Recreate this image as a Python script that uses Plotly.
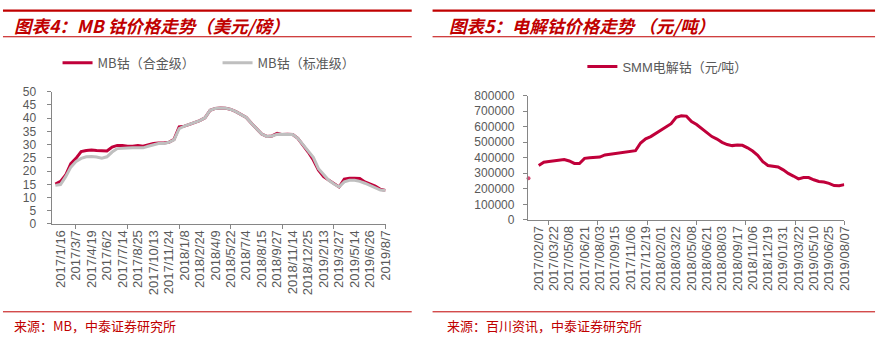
import plotly.graph_objects as go

# ---------------- data ----------------
mb_labels = ["2017/1/16", "2017/3/7", "2017/4/19", "2017/6/2", "2017/7/14", "2017/8/25",
             "2017/10/13", "2017/11/24", "2018/1/8", "2018/2/24", "2018/4/9", "2018/5/22",
             "2018/7/4", "2018/8/15", "2018/9/27", "2018/11/14", "2018/12/25", "2019/2/13",
             "2019/3/27", "2019/5/14", "2019/6/26", "2019/8/7"]
mb_alloy = [15.1, 16.1, 18.5, 22.8, 24.8, 27.4, 27.8, 28.0, 27.8, 27.6, 27.6, 29.1, 29.7, 29.7,
            29.4, 29.4, 29.7, 29.4, 29.9, 30.4, 30.6, 30.6, 30.9, 32.0, 36.7, 37.0, 37.7, 38.3,
            39.1, 40.1, 43.0, 43.7, 43.9, 43.8, 43.3, 42.5, 41.5, 40.3, 38.1, 36.1, 34.0, 33.1,
            33.3, 34.3, 33.8, 33.9, 33.8, 32.4, 30.0, 27.2, 24.2, 20.3, 17.9, 16.5, 15.1, 14.0,
            17.0, 17.3, 17.3, 17.2, 15.9, 15.1, 14.3, 13.1, 12.7]
mb_std = [14.6, 14.9, 17.9, 21.5, 23.6, 24.8, 25.4, 25.5, 25.3, 24.9, 25.4, 27.2, 28.5, 28.5,
          28.7, 28.8, 28.8, 28.8, 29.4, 29.9, 30.4, 30.4, 30.9, 31.8, 36.1, 37.0, 37.7, 38.3,
          39.1, 40.1, 43.0, 43.7, 43.9, 43.8, 43.3, 42.5, 41.5, 40.3, 38.1, 36.1, 34.0, 33.1,
          33.3, 33.9, 33.8, 33.9, 33.8, 32.4, 30.0, 27.2, 25.2, 20.9, 18.5, 16.5, 15.1, 14.0,
          15.9, 16.5, 16.5, 16.1, 15.4, 14.5, 13.7, 12.8, 12.7]

smm_labels = ["2017/02/07", "2017/03/22", "2017/05/08", "2017/06/21", "2017/08/03", "2017/09/15",
              "2017/11/06", "2017/12/19", "2018/02/01", "2018/03/22", "2018/05/08", "2018/06/21",
              "2018/08/03", "2018/09/17", "2018/11/06", "2018/12/19", "2019/01/31", "2019/03/22",
              "2019/05/10", "2019/06/25", "2019/08/07"]
smm_price = [268000, None, 350000, 371000, 375000, 379000, 385000, 388000, 379000, 363000,
             363000, 396000, 400000, 400000, 404000, 418000, 423000, 427000, 431000, 435000,
             439000, 445000, 495000, 522000, 536000, 557000, 577000, 594000, 619000, 660000,
             670000, 668000, 633000, 614000, 588000, 557000, 536000, 520000, 499000, 485000,
             478000, 482000, 480000, 464000, 443000, 416000, 375000, 350000, 346000, 340000,
             322000, 299000, 282000, 264000, 272000, 272000, 258000, 247000, 243000, 235000,
             221000, 219000, 227000]

# ---------------- styling ----------------
W, H = 889, 350
RED = "#C00000"
LINE_RED = "#C0003A"
GRAY = "#BFBFBF"
TXT = "#595959"
AX = "#868686"
CJK = "Noto Sans CJK SC"
SANS = "Liberation Sans, Arial"

def px(x):
    return x / W

def py(y):
    return 1 - y / H

fig = go.Figure()

# left series
xl = list(range(len(mb_alloy)))
fig.add_trace(go.Scatter(x=xl, y=mb_alloy, mode="lines", name="MB钴（合金级）",
                         line=dict(color=LINE_RED, width=3), xaxis="x", yaxis="y",
                         legend="legend"))
fig.add_trace(go.Scatter(x=xl, y=mb_std, mode="lines", name="MB钴（标准级）",
                         line=dict(color=GRAY, width=3), xaxis="x", yaxis="y",
                         legend="legend"))

# right series
xr = list(range(len(smm_price)))
sizes = []
for i, v in enumerate(smm_price):
    prev_none = i == 0 or smm_price[i - 1] is None
    next_none = i == len(smm_price) - 1 or smm_price[i + 1] is None
    sizes.append(4 if (v is not None and prev_none and next_none) else 0)
fig.add_trace(go.Scatter(x=xr, y=smm_price, mode="lines+markers", name="SMM电解钴（元/吨）",
                         line=dict(color=LINE_RED, width=3),
                         marker=dict(size=sizes, color=LINE_RED, line=dict(width=0)),
                         cliponaxis=False, xaxis="x2", yaxis="y2", legend="legend2"))

n_l = len(mb_labels)
n_r = len(smm_labels)
left_tickvals = [1 + 3 * k for k in range(n_l)]
right_tickvals = [2 + 3 * k for k in range(n_r)]
left_minor = [4 + 10 * k for k in range(7)]
right_minor = [62 - 9.675 * k for k in range(7)]

common_x = dict(showgrid=False, zeroline=False, showline=True, linecolor=AX, linewidth=1,
                tickangle=-90, tickmode="array", ticks="", ticklen=0,
                tickfont=dict(family=SANS, size=13, color=TXT))
common_y = dict(showgrid=False, zeroline=False, showline=True, linecolor=AX, linewidth=1,
                ticks="outside", ticklen=4, tickcolor=AX,
                tickfont=dict(family=SANS, size=12, color=TXT))

fig.update_layout(
    width=W, height=H, margin=dict(l=0, r=0, t=0, b=0),
    paper_bgcolor="white", plot_bgcolor="white",
    xaxis=dict(**common_x, domain=[px(52), px(388.6)], range=[-0.73, 64],
               tickvals=left_tickvals, ticktext=mb_labels, anchor="y",
               minor=dict(tickmode="array", tickvals=left_minor, ticks="outside",
                          ticklen=4, tickcolor=AX)),
    yaxis=dict(**common_y, domain=[py(226), py(88.3)], range=[0, 50], dtick=5,
               anchor="x", ticklabelstandoff=8),
    xaxis2=dict(**common_x, domain=[px(532), px(851)], range=[-0.14, 62],
                tickvals=right_tickvals, ticktext=smm_labels, anchor="y2",
                minor=dict(tickmode="array", tickvals=right_minor, ticks="outside",
                           ticklen=4, tickcolor=AX)),
    yaxis2=dict(**common_y, domain=[py(221.7), py(92.3)], range=[0, 800000], dtick=100000,
                tickformat="d", anchor="x2", ticklabelstandoff=6),
    legend=dict(orientation="h", x=px(58), xanchor="left", y=py(58), yanchor="middle",
                font=dict(family=CJK, size=13, color=TXT), bgcolor="rgba(0,0,0,0)",
                itemwidth=30, entrywidth=115, entrywidthmode="pixels"),
    legend2=dict(orientation="h", x=px(587), xanchor="left", y=py(62), yanchor="middle",
                 font=dict(family=SANS + ", " + CJK, size=13, color=TXT),
                 bgcolor="rgba(0,0,0,0)", itemwidth=30),
    showlegend=True,
)

shapes = []
for (x0, x1) in [(3, 415), (436, 882)]:
    shapes.append(dict(type="line", xref="paper", yref="paper", x0=px(x0), x1=px(x1),
                       y0=py(3.8), y1=py(3.8), line=dict(color=RED, width=2.2)))
    shapes.append(dict(type="line", xref="paper", yref="paper", x0=px(x0), x1=px(x1),
                       y0=py(31), y1=py(31), line=dict(color=RED, width=1)))
    shapes.append(dict(type="line", xref="paper", yref="paper", x0=px(x0), x1=px(x1),
                       y0=py(317.5), y1=py(317.5), line=dict(color=RED, width=1)))
fig.update_layout(shapes=shapes)

title_font = dict(family=CJK, size=17.5, color=RED, style="italic", weight="bold")
src_font = dict(family=CJK, size=13, color=RED)
fig.add_annotation(text="图表4：MB 钴价格走势（美元/磅）", xref="paper", yref="paper",
                   x=px(12), y=py(19), xanchor="left", yanchor="middle", showarrow=False,
                   font=title_font)
fig.add_annotation(text="图表5：电解钴价格走势 （元/吨）", xref="paper", yref="paper",
                   x=px(451), y=py(19), xanchor="left", yanchor="middle", showarrow=False,
                   font=title_font)
fig.add_annotation(text="来源：MB，中泰证券研究所", xref="paper", yref="paper",
                   x=px(12), y=py(332), xanchor="left", yanchor="middle", showarrow=False,
                   font=src_font)
fig.add_annotation(text="来源：百川资讯，中泰证券研究所", xref="paper", yref="paper",
                   x=px(449), y=py(331.5), xanchor="left", yanchor="middle", showarrow=False,
                   font=src_font)

fig.write_html("out.html")
